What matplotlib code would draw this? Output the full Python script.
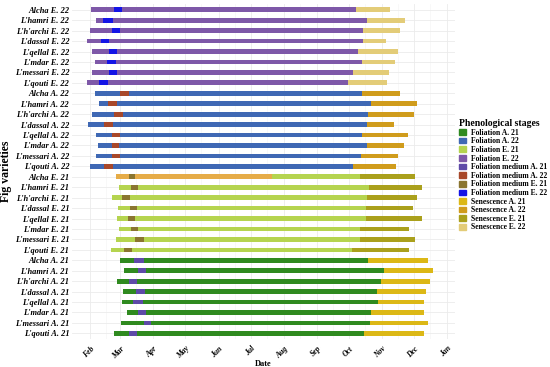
import numpy as np
import matplotlib.pyplot as plt
from matplotlib.patches import Patch

# varieties in display order (top to bottom inside each group)
varieties = ["Alcha", "L'hamri", "L'h'archi", "L'dassal", "L'qellal", "L'mdar", "L'messari", "L'qouti"]
groups = ["E. 22", "A. 22", "E. 21", "A. 21"]

# day of year values
# foliation start, foliation medium start/end, senescence start, senescence end
fol_start = {
    "E. 22": [33, 37, 32, 29, 34, 36, 34, 29],
    "A. 22": [36, 40, 34, 30, 37, 39, 37, 32],
    "E. 21": [56, 59, 52, 58, 57, 59, 56, 51],
    "A. 21": [60, 64, 57, 63, 62, 66, 61, 54],
}
med_start = {
    "E. 22": [54, 44, 52, 42, 50, 48, 50, 40],
    "A. 22": [60, 49, 54, 45, 52, 52, 52, 45],
    "E. 21": [68, 70, 62, 69, 67, 70, 74, 64],
    "A. 21": [73, 77, 68, 75, 72, 77, 82, 68],
}
med_end = {
    "E. 22": [62, 53, 60, 50, 57, 56, 57, 49],
    "A. 22": [68, 57, 63, 53, 60, 59, 60, 53],
    "E. 21": [74, 77, 69, 76, 74, 77, 82, 71],
    "A. 21": [82, 84, 76, 83, 81, 84, 89, 76],
}
sen_start = {
    "E. 22": [281, 291, 287, 287, 282, 286, 278, 273],
    "A. 22": [286, 295, 292, 291, 286, 291, 285, 278],
    "E. 21": [284, 293, 291, 290, 290, 284, 284, 277],
    "A. 21": [292, 307, 304, 300, 301, 295, 294, 288],
}
sen_end = {
    "E. 22": [312, 326, 322, 309, 320, 317, 311, 310],
    "A. 22": [322, 338, 335, 316, 329, 325, 320, 318],
    "E. 21": [336, 342, 338, 334, 342, 330, 336, 330],
    "A. 21": [348, 353, 350, 346, 344, 344, 348, 344],
}
# odd extra segment drawn on the Alcha E. 21 row
alcha_e21_extra = (56, 202)

month_days = [32, 60, 91, 121, 152, 182, 213, 244, 274, 305, 335, 366]
month_names = ["Feb", "Mar", "Apr", "May", "Jun", "Jul", "Aug", "Sep", "Oct", "Nov", "Dec", "Jan"]

col_fol = {"A. 21": "#2f8a1f", "A. 22": "#3f68b4", "E. 21": "#b5d44f", "E. 22": "#7e58a8"}
col_med = {"A. 21": "#5e4aa8", "A. 22": "#a8482a", "E. 21": "#8a7530", "E. 22": "#1414e6"}
col_sen = {"A. 21": "#dcb816", "A. 22": "#d09c1c", "E. 21": "#aaa01c", "E. 22": "#e3cc78"}

plt.rcParams['font.family'] = ['Liberation Serif', 'DejaVu Serif']

fig = plt.figure(figsize=(5.5, 3.67), dpi=100)
ax = fig.add_axes([0.131, 0.076, 0.696, 0.913])

h = 0.45
labels = []
row = 0
for g in groups:
    for i, v in enumerate(varieties):
        labels.append(v + " " + g)
        s, ms, me = fol_start[g][i], med_start[g][i], med_end[g][i]
        ss, se = sen_start[g][i], sen_end[g][i]
        ax.barh(row, ss - s, left=s, height=h, color=col_fol[g], zorder=2)
        ax.barh(row, se - ss, left=ss, height=h, color=col_sen[g], zorder=2)
        if g == "E. 21" and v == "Alcha":
            a, b = alcha_e21_extra
            ax.barh(row, b - a, left=a, height=h, color="#e6ac48", zorder=2)
        ax.barh(row, me - ms, left=ms, height=h, color=col_med[g], zorder=3)
        row += 1

ax.set_ylim(len(labels) - 0.45, -0.55)
ax.set_xlim(15, 373)
ax.set_yticks(range(len(labels)))
ax.set_yticklabels(labels, fontsize=6, fontweight='bold', fontstyle='italic')
ax.set_xticks(month_days)
ax.set_xticklabels(month_names, fontsize=5.5, fontweight='bold', fontstyle='italic',
                   rotation=45, ha='right', rotation_mode='anchor')
ax.set_xticks([d + 15 for d in month_days[:-1]], minor=True)
ax.tick_params(length=0, pad=2)
ax.tick_params(axis='x', which='both', length=0, pad=4)
ax.grid(True, which='major', color='#ebebeb', lw=0.6, zorder=0)
ax.grid(True, which='minor', axis='x', color='#f3f3f3', lw=0.4, zorder=0)
ax.set_axisbelow(True)
for sp in ax.spines.values():
    sp.set_visible(False)

ax.set_xlabel("Date", fontsize=6, fontweight='bold', labelpad=0)
ax.set_ylabel("Fig varieties", fontsize=8.5, fontweight='bold', labelpad=2)

handles = []
names = []
for stage, cols in [("Foliation", col_fol), ("Foliation medium", col_med), ("Senescence", col_sen)]:
    for g in ["A. 21", "A. 22", "E. 21", "E. 22"]:
        handles.append(Patch(color=cols[g]))
        names.append(stage + " " + g)
leg = fig.legend(handles, names, loc='upper left', bbox_to_anchor=(0.825, 0.69),
                 frameon=False, fontsize=5.5, title="Phenological stages",
                 handlelength=0.9, handleheight=0.75, handletextpad=0.6,
                 labelspacing=0.08, alignment='left', borderpad=0.2)
leg.get_title().set_fontsize(7)
leg.get_title().set_fontweight('bold')
for t in leg.get_texts():
    t.set_fontweight('bold')

fig.savefig("out.png", dpi=100)
